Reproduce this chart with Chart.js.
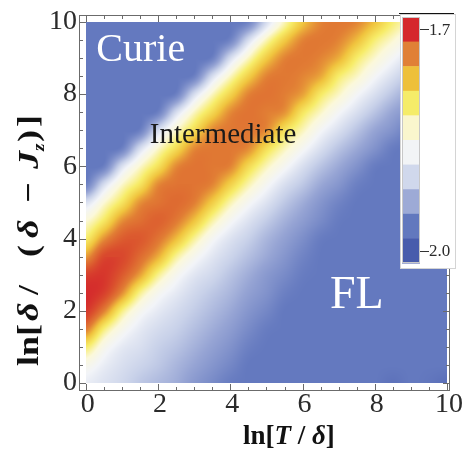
<!DOCTYPE html>
<html>
<head>
<meta charset="utf-8">
<script src="https://cdn.jsdelivr.net/npm/chart.js@4.4.0/dist/chart.umd.min.js"></script>
<style>
  html, body { margin: 0; padding: 0; background: #fff; }
</style>
</head>
<body>
<canvas id="densityChart" width="462" height="450"></canvas>
<script>
// grid: columns are ln[T/delta], rows are ln[delta/(delta-Jz)] from top (10) to bottom (0)
const xValues = [0, 0.5, 1, 1.5, 2, 2.5, 3, 3.5, 4, 4.5, 5, 5.5, 6, 6.5, 7, 7.5, 8, 8.5, 9, 9.5, 10];
const yValues = [10, 9.5, 9, 8.5, 8, 7.5, 7, 6.5, 6, 5.5, 5, 4.5, 4, 3.5, 3, 2.5, 2, 1.5, 1, 0.5, 0];
const zRows = [
  [1.970, 1.970, 1.970, 1.970, 1.970, 1.970, 1.970, 1.970, 1.970, 1.961, 1.895, 1.841, 1.793, 1.763, 1.757, 1.763, 1.790, 1.823, 1.847, 1.871, 1.892],
  [1.970, 1.970, 1.970, 1.970, 1.970, 1.970, 1.970, 1.970, 1.961, 1.895, 1.841, 1.796, 1.763, 1.757, 1.763, 1.787, 1.823, 1.847, 1.871, 1.892, 1.913],
  [1.970, 1.970, 1.970, 1.970, 1.970, 1.970, 1.970, 1.964, 1.895, 1.844, 1.796, 1.763, 1.757, 1.763, 1.781, 1.820, 1.847, 1.871, 1.892, 1.913, 1.934],
  [1.970, 1.970, 1.970, 1.970, 1.970, 1.970, 1.964, 1.895, 1.844, 1.799, 1.763, 1.757, 1.763, 1.778, 1.820, 1.844, 1.871, 1.892, 1.913, 1.934, 1.952],
  [1.970, 1.970, 1.970, 1.970, 1.970, 1.964, 1.895, 1.844, 1.802, 1.763, 1.754, 1.760, 1.775, 1.817, 1.844, 1.871, 1.892, 1.913, 1.934, 1.952, 1.967],
  [1.970, 1.970, 1.970, 1.970, 1.964, 1.895, 1.844, 1.805, 1.766, 1.754, 1.760, 1.769, 1.814, 1.844, 1.871, 1.892, 1.913, 1.934, 1.949, 1.967, 1.970],
  [1.970, 1.970, 1.970, 1.964, 1.895, 1.847, 1.808, 1.766, 1.757, 1.757, 1.766, 1.811, 1.841, 1.871, 1.892, 1.913, 1.934, 1.949, 1.967, 1.970, 1.970],
  [1.970, 1.970, 1.964, 1.895, 1.847, 1.808, 1.766, 1.757, 1.757, 1.766, 1.808, 1.841, 1.868, 1.892, 1.913, 1.931, 1.949, 1.967, 1.970, 1.970, 1.970],
  [1.970, 1.964, 1.892, 1.847, 1.811, 1.766, 1.754, 1.757, 1.763, 1.805, 1.841, 1.868, 1.892, 1.913, 1.931, 1.949, 1.967, 1.970, 1.970, 1.970, 1.970],
  [1.964, 1.895, 1.847, 1.814, 1.766, 1.754, 1.754, 1.763, 1.799, 1.838, 1.868, 1.892, 1.910, 1.931, 1.946, 1.964, 1.970, 1.970, 1.970, 1.970, 1.970],
  [1.892, 1.850, 1.814, 1.769, 1.754, 1.748, 1.760, 1.796, 1.838, 1.868, 1.889, 1.910, 1.928, 1.946, 1.961, 1.970, 1.970, 1.970, 1.970, 1.970, 1.970],
  [1.850, 1.817, 1.769, 1.751, 1.742, 1.757, 1.790, 1.835, 1.868, 1.889, 1.907, 1.925, 1.940, 1.955, 1.968, 1.970, 1.970, 1.970, 1.970, 1.970, 1.970],
  [1.820, 1.769, 1.739, 1.736, 1.754, 1.787, 1.832, 1.868, 1.889, 1.904, 1.922, 1.937, 1.952, 1.967, 1.970, 1.970, 1.970, 1.970, 1.970, 1.970, 1.970],
  [1.772, 1.724, 1.724, 1.748, 1.781, 1.832, 1.865, 1.886, 1.901, 1.916, 1.931, 1.946, 1.961, 1.970, 1.970, 1.970, 1.970, 1.970, 1.970, 1.970, 1.970],
  [1.718, 1.712, 1.736, 1.775, 1.829, 1.865, 1.886, 1.898, 1.913, 1.928, 1.943, 1.955, 1.967, 1.970, 1.970, 1.970, 1.970, 1.970, 1.970, 1.970, 1.970],
  [1.703, 1.718, 1.766, 1.829, 1.865, 1.883, 1.898, 1.910, 1.922, 1.937, 1.949, 1.964, 1.970, 1.970, 1.970, 1.970, 1.970, 1.970, 1.970, 1.970, 1.970],
  [1.712, 1.760, 1.826, 1.865, 1.883, 1.895, 1.907, 1.919, 1.931, 1.946, 1.958, 1.970, 1.970, 1.970, 1.970, 1.970, 1.970, 1.970, 1.970, 1.970, 1.970],
  [1.757, 1.823, 1.862, 1.883, 1.895, 1.904, 1.916, 1.928, 1.940, 1.955, 1.967, 1.970, 1.970, 1.970, 1.970, 1.970, 1.970, 1.970, 1.970, 1.970, 1.970],
  [1.820, 1.862, 1.883, 1.892, 1.904, 1.913, 1.925, 1.937, 1.949, 1.964, 1.970, 1.970, 1.970, 1.970, 1.970, 1.970, 1.970, 1.970, 1.970, 1.970, 1.970],
  [1.862, 1.880, 1.892, 1.901, 1.910, 1.922, 1.934, 1.946, 1.958, 1.970, 1.970, 1.970, 1.970, 1.970, 1.970, 1.970, 1.970, 1.970, 1.970, 1.970, 1.970],
  [1.880, 1.889, 1.898, 1.910, 1.919, 1.928, 1.943, 1.955, 1.967, 1.970, 1.970, 1.970, 1.970, 1.970, 1.970, 1.970, 1.970, 1.976, 1.970, 1.973, 1.979]
];

const xTicks = [0, 2, 4, 6, 8, 10];
const yTicks = [0, 2, 4, 6, 8, 10];
const barTicks = [1.7, 2.0];
const barTickLabels = ['1.7', '2.0'];
const zTop = 1.7;     // red end of the bar
const zBottom = 2.0;  // blue end of the bar
const regionNames = ['Curie', 'Intermediate', 'FL'];

// styles
const SERIF = '"Liberation Serif", "DejaVu Serif", serif';
const frameColour = '#6b6b6b';
const labelColour = '#2b2b2b';
// colour ramp for the density (fraction from blue end to red end)
const ramp = [
  [0.00, [70, 88, 170]],
  [0.10, [100, 121, 191]],
  [0.22, [150, 164, 212]],
  [0.32, [200, 209, 233]],
  [0.42, [242, 244, 248]],
  [0.50, [251, 248, 218]],
  [0.60, [247, 236, 104]],
  [0.70, [240, 196, 62]],
  [0.80, [225, 125, 52]],
  [0.90, [218, 80, 45]],
  [1.00, [212, 38, 44]]
];
// swatches of the bar legend, top to bottom
const barColours = ['#d5282d', '#e08036', '#eec03a', '#f5ec69', '#faf6cd', '#f2f4f6', '#d0d8ec', '#9daad6', '#6278be', '#485cac'];

function colourFor(z) {
  let t = (zBottom - z) / (zBottom - zTop);
  t = Math.max(0, Math.min(1, t));
  for (let i = 0; i < ramp.length - 1; i++) {
    const a = ramp[i], b = ramp[i + 1];
    if (t <= b[0]) {
      const f = (t - a[0]) / (b[0] - a[0]);
      return [0, 1, 2].map(k => Math.round(a[1][k] + (b[1][k] - a[1][k]) * f));
    }
  }
  return ramp[ramp.length - 1][1];
}

// smooth (Catmull-Rom) reading of the grid, kept inside the local cell range
function cubic(p0, p1, p2, p3, t) {
  return p1 + 0.5 * t * (p2 - p0 + t * (2 * p0 - 5 * p1 + 4 * p2 - p3 + t * (3 * (p1 - p2) + p3 - p0)));
}
function cell(j, i) {
  j = Math.max(0, Math.min(yValues.length - 1, j));
  i = Math.max(0, Math.min(xValues.length - 1, i));
  return zRows[j][i];
}
function zAt(x, y) {
  let i = 0;
  while (i < xValues.length - 2 && x > xValues[i + 1]) i++;
  let j = 0;
  while (j < yValues.length - 2 && y < yValues[j + 1]) j++;
  let fx = (x - xValues[i]) / (xValues[i + 1] - xValues[i]);
  let fy = (yValues[j] - y) / (yValues[j] - yValues[j + 1]);
  fx = Math.max(0, Math.min(1, fx));
  fy = Math.max(0, Math.min(1, fy));
  const rows = [];
  for (let r = -1; r <= 2; r++) {
    rows.push(cubic(cell(j + r, i - 1), cell(j + r, i), cell(j + r, i + 1), cell(j + r, i + 2), fx));
  }
  let z = cubic(rows[0], rows[1], rows[2], rows[3], fy);
  const c = [cell(j, i), cell(j, i + 1), cell(j + 1, i), cell(j + 1, i + 1)];
  return Math.max(Math.min(...c), Math.min(Math.max(...c), z));
}

// density image, pixel by pixel through the chart scales
const densityPlugin = {
  id: 'density',
  beforeDatasetsDraw(chart) {
    const xs = chart.scales.x, ys = chart.scales.y;
    const left = Math.round(xs.getPixelForValue(xValues[0]));
    const right = Math.round(xs.getPixelForValue(xValues[xValues.length - 1]));
    const top = Math.round(ys.getPixelForValue(yValues[0]));
    const bottom = Math.round(ys.getPixelForValue(yValues[yValues.length - 1]));
    const w = right - left, h = bottom - top;
    const off = document.createElement('canvas');
    off.width = w;
    off.height = h;
    const octx = off.getContext('2d');
    const img = octx.createImageData(w, h);
    for (let r = 0; r < h; r++) {
      const yv = ys.getValueForPixel(top + r + 0.5);
      for (let c = 0; c < w; c++) {
        const xv = xs.getValueForPixel(left + c + 0.5);
        const rgb = colourFor(zAt(xv, yv));
        const k = (r * w + c) * 4;
        img.data[k] = rgb[0];
        img.data[k + 1] = rgb[1];
        img.data[k + 2] = rgb[2];
        img.data[k + 3] = 255;
      }
    }
    octx.putImageData(img, 0, 0);
    chart.ctx.drawImage(off, left, top);
  }
};

function drawPieces(ctx, pieces, x, y) {
  pieces.forEach(p => {
    ctx.font = p[1] + ' 27px ' + SERIF;
    ctx.fillText(p[0], x, y);
    x += ctx.measureText(p[0]).width;
  });
}

// frame, ticks, labels, region names and the bar legend
const framePlugin = {
  id: 'frameAndLegend',
  afterDraw(chart) {
    const ctx = chart.ctx;
    const a = chart.chartArea;
    const xs = chart.scales.x, ys = chart.scales.y;
    ctx.save();

    // region names
    ctx.textAlign = 'center';
    ctx.textBaseline = 'alphabetic';
    ctx.fillStyle = '#ffffff';
    ctx.font = '40px ' + SERIF;
    ctx.fillText(regionNames[0], xs.getPixelForValue(1.52), ys.getPixelForValue(8.92));
    ctx.fillStyle = '#1a1a1a';
    ctx.font = '29px ' + SERIF;
    ctx.fillText(regionNames[1], xs.getPixelForValue(3.8), ys.getPixelForValue(6.64));
    ctx.fillStyle = '#ffffff';
    ctx.font = '46px ' + SERIF;
    ctx.fillText(regionNames[2], xs.getPixelForValue(7.5), ys.getPixelForValue(2.08));

    // frame
    ctx.strokeStyle = frameColour;
    ctx.lineWidth = 1;
    ctx.strokeRect(a.left + 0.5, a.top + 0.5, a.right - a.left - 1, a.bottom - a.top - 1);

    // inward ticks on all four sides
    ctx.beginPath();
    for (let k = 0; k <= 20; k++) {
      const v = k * 0.5;
      const len = (k % 4 === 0) ? 7 : 4;
      const px = Math.round(xs.getPixelForValue(v)) + 0.5;
      const py = Math.round(ys.getPixelForValue(v)) + 0.5;
      ctx.moveTo(px, a.bottom); ctx.lineTo(px, a.bottom - len);
      ctx.moveTo(px, a.top); ctx.lineTo(px, a.top + len);
      ctx.moveTo(a.left, py); ctx.lineTo(a.left + len, py);
      ctx.moveTo(a.right, py); ctx.lineTo(a.right - len, py);
    }
    ctx.stroke();

    // tick labels
    ctx.fillStyle = labelColour;
    ctx.font = '28px ' + SERIF;
    ctx.textAlign = 'center';
    ctx.textBaseline = 'alphabetic';
    xTicks.forEach(v => ctx.fillText(String(v), xs.getPixelForValue(v) + 2, 412));
    ctx.textAlign = 'right';
    ctx.textBaseline = 'middle';
    yTicks.forEach(v => ctx.fillText(String(v), a.left - 2, ys.getPixelForValue(v)));

    // axis titles
    ctx.fillStyle = '#111111';
    ctx.textAlign = 'left';
    ctx.textBaseline = 'alphabetic';
    drawPieces(ctx, [['ln[', 'bold'], ['T', 'italic bold'], [' / ', 'bold'], ['\u03B4', 'italic bold'], [']', 'bold']], 243, 444);

    ctx.save();
    ctx.translate(38, 0);
    ctx.rotate(-Math.PI / 2);
    const yParts = [
      ['ln[', 'bold', 30, 366, 0],
      ['\u03B4', 'italic bold', 30, 321, 0],
      ['/', 'bold', 30, 295, 0],
      ['(', 'bold', 30, 257, 0],
      ['\u03B4', 'italic bold', 30, 238, 0],
      ['\u2212', 'bold', 30, 203, 0],
      ['J', 'italic bold', 30, 169, 0],
      ['z', 'italic bold', 16, 151, 6],
      [')', 'bold', 30, 142, 0],
      [']', 'bold', 30, 127, 0]
    ];
    yParts.forEach(p => {
      ctx.save();
      ctx.translate(-p[3], p[4]);
      ctx.scale(1.2, 1);
      ctx.font = p[1] + ' ' + p[2] + 'px ' + SERIF;
      ctx.fillText(p[0], 0, 0);
      ctx.restore();
    });
    ctx.restore();

    // bar legend
    const boxL = 400, boxT = 14, boxR = 456, boxB = 269;
    ctx.fillStyle = '#ffffff';
    ctx.fillRect(boxL, boxT, boxR - boxL, boxB - boxT);
    ctx.strokeStyle = '#d4d4d4';
    ctx.strokeRect(boxL + 0.5, boxT + 0.5, boxR - boxL - 1, boxB - boxT - 1);
    ctx.strokeStyle = '#111111';
    ctx.beginPath();
    ctx.moveTo(399, 13.5); ctx.lineTo(454, 13.5);
    ctx.stroke();

    const barL = 402, barR = 420, barT = 17, barB = 263;
    const sw = (barB - barT) / barColours.length;
    barColours.forEach((c, i) => {
      ctx.fillStyle = c;
      ctx.fillRect(barL, barT + i * sw, barR - barL, sw + 0.5);
    });
    ctx.strokeStyle = '#c8c8c8';
    ctx.strokeRect(barL + 0.5, barT + 0.5, barR - barL - 1, barB - barT - 1);

    ctx.strokeStyle = '#333333';
    ctx.fillStyle = labelColour;
    ctx.font = '17px ' + SERIF;
    ctx.textAlign = 'left';
    ctx.textBaseline = 'middle';
    barTicks.forEach((v, i) => {
      const y = barT + sw / 2 + (v - zTop) / (zBottom - zTop) * (barB - barT - sw);
      ctx.beginPath();
      ctx.moveTo(barR, Math.round(y) + 0.5);
      ctx.lineTo(barR + 9, Math.round(y) + 0.5);
      ctx.stroke();
      ctx.fillText(barTickLabels[i], barR + 9, y + 1);
    });

    ctx.restore();
  }
};

new Chart(document.getElementById('densityChart'), {
  type: 'scatter',
  data: { datasets: [{ data: [], pointRadius: 0 }] },
  options: {
    responsive: false,
    animation: false,
    devicePixelRatio: 1,
    layout: { padding: { left: 79, right: 12, top: 15, bottom: 59 } },
    plugins: { legend: { display: false }, tooltip: { enabled: false } },
    scales: {
      x: { type: 'linear', min: -0.19, max: 10.08, display: false },
      y: { type: 'linear', min: -0.22, max: 10.19, display: false }
    }
  },
  plugins: [densityPlugin, framePlugin]
});
</script>
</body>
</html>
